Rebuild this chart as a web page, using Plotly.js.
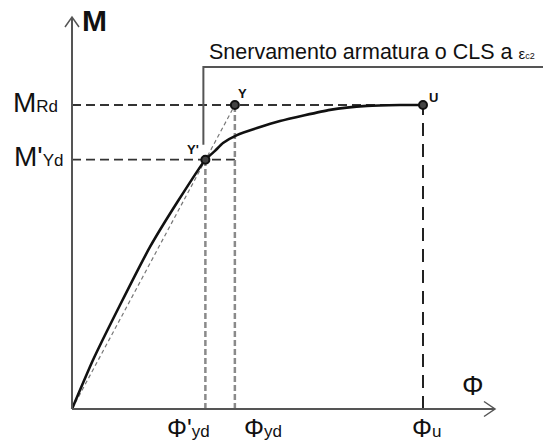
<!DOCTYPE html>
<html><head><meta charset="utf-8">
<script src="https://cdn.plot.ly/plotly-3.0.1.min.js"></script>
<style>html,body{margin:0;padding:0;background:#fff}</style>
</head><body><div id="chart" style="width:547px;height:441px"></div>
<script>
// ---- data ----
const curvePhi = [0, 0.598, 1.368, 2.222, 3.02, 3.8, 4.074, 4.302, 4.70, 5.271, 5.926, 7.35, 8.405, 9.345, 10];
const curveM   = [0, 16.1, 34.2, 53.3, 68.4, 82, 84.9, 87.5, 90.1, 92.4, 94.7, 98.4, 99.7, 100, 100];
const pointNames = ["Y'", "Y", "U"];
const pointPhi = [3.8, 4.64, 10];
const pointM   = [82, 100, 100];
const xTickVals = [3.8, 4.64, 10];
const xTickText = ["Φ'", "Φ", "Φ"];
const xTickSub  = ["yd", "yd", "u"];
const yTickVals = [100, 82];
const yTickText = ["M", "M'"];
const yTickSub  = ["Rd", "Yd"];
const xAxisTitle = "Φ";
const yAxisTitle = "M";
const noteText = "Snervamento armatura o CLS a ";
const noteSym = "ε";
const noteSub = "c2";

// ---- scale (pixels per unit) ----
const sx = 35.1, sy = 3.04, ox = 72, oy = 409, W = 547, H = 441;
const dx = p => p / sx, dy = p => p / sy;
const xr = [-ox / sx, (W - ox) / sx];
const yr = [-(H - oy) / sy, oy / sy];

const [phiYp, phiY, phiU] = pointPhi;
const [MYp, MRd, MU] = pointM;

const FONT = "Liberation Sans, Arial, sans-serif";
const traces = [];
function dline(x, y, color, width, dash) {
  traces.push({x, y, mode: 'lines', type: 'scatter', hoverinfo: 'skip',
    line: {color, width, dash}});
}
// secant
dline([0, phiY], [0, MRd], '#777', 1.2, '4px,3px');
// horizontal references
dline([0, phiU], [MRd, MRd], '#333', 1.8, '9px,5px');
dline([0, phiY], [MYp, MYp], '#333', 1.8, '9px,5px');
// verticals
dline([phiYp, phiYp], [0, MYp], '#8a8a8a', 2.5, '6px,3px');
dline([phiY, phiY], [0, MRd], '#8a8a8a', 2.5, '6px,3px');
dline([phiU, phiU], [0, MU], '#222', 2, '13px,8px');
// curve
traces.push({x: curvePhi, y: curveM, mode: 'lines', type: 'scatter', hoverinfo: 'skip',
  line: {color: '#111', width: 2.6, shape: 'spline', smoothing: 0.5}});
// points
traces.push({x: pointPhi, y: pointM, mode: 'markers', type: 'scatter', hoverinfo: 'skip',
  marker: {size: 8, color: '#444', line: {color: '#111', width: 2}}});

// axes and bracket as shapes
const axTopY = dy(oy - 17), axEndX = dx(495 - ox);
const shapes = [
  {type: 'line', x0: 0, y0: 0, x1: 0, y1: axTopY, line: {color: '#555', width: 2}},
  {type: 'line', x0: 0, y0: 0, x1: axEndX, y1: 0, line: {color: '#555', width: 2}},
  {type: 'path', path: `M ${-dx(7)} ${axTopY - dy(10)} L 0 ${axTopY} L ${dx(7)} ${axTopY - dy(10)}`,
    line: {color: '#555', width: 1.5}},
  {type: 'path', path: `M ${axEndX - dx(11)} ${dy(7.5)} L ${axEndX} 0 L ${axEndX - dx(11)} ${-dy(7.5)}`,
    line: {color: '#555', width: 1.5}},
  {type: 'path', path: `M ${phiYp - dx(2)} ${MYp + dy(15)} L ${phiYp - dx(2)} ${dy(oy - 67)} L ${dx(543 - ox)} ${dy(oy - 67)}`,
    line: {color: '#555', width: 2}}
];

const ann = [];
// axis titles
ann.push({x: 0, y: axTopY, xanchor: 'left', yanchor: 'middle', xshift: 8, yshift: -3,
  text: `<b>${yAxisTitle}</b>`, showarrow: false, font: {family: FONT, size: 30, color: '#111'}});
ann.push({x: axEndX, y: 0, xanchor: 'center', yanchor: 'bottom', xshift: -22, yshift: 6,
  text: xAxisTitle, showarrow: false, font: {family: FONT, size: 27, color: '#111'}});
// y tick labels
const yShift = [-12, -7];
yTickVals.forEach((v, i) => ann.push({x: 0, y: v, xanchor: 'right', yanchor: 'middle',
  xshift: yShift[i], yshift: 3, showarrow: false,
  text: `${yTickText[i]}<span style="font-size:17px">${yTickSub[i]}</span>`,
  font: {family: FONT, size: 28, color: '#111'}}));
// x tick labels
const xShift = [-17, 28, 3];
xTickVals.forEach((v, i) => ann.push({x: v, y: 0, xanchor: 'center', yanchor: 'top',
  xshift: xShift[i], yshift: -3, showarrow: false,
  text: `${xTickText[i]}<span style="font-size:17px">${xTickSub[i]}</span>`,
  font: {family: FONT, size: 25, color: '#111'}}));
// point labels
const pShift = [[-12, 10], [8, 12], [10, 8]];
pointNames.forEach((n, i) => ann.push({x: pointPhi[i], y: pointM[i], xanchor: 'center', yanchor: 'middle',
  xshift: pShift[i][0], yshift: pShift[i][1], showarrow: false, text: `<b>${n}</b>`,
  font: {family: FONT, size: 13, color: '#111'}}));
// note
ann.push({x: dx(207 - ox), y: dy(oy - 67), xanchor: 'left', yanchor: 'bottom', yshift: 1, showarrow: false,
  text: `${noteText}<span style="font-size:15px">${noteSym}</span><span style="font-size:9px">${noteSub}</span>`,
  font: {family: FONT, size: 21.5, color: '#111'}});

Plotly.newPlot('chart', traces, {
  width: W, height: H, margin: {l: 0, r: 0, t: 0, b: 0},
  paper_bgcolor: '#fff', plot_bgcolor: '#fff', showlegend: false,
  xaxis: {range: xr, visible: false, fixedrange: true},
  yaxis: {range: yr, visible: false, fixedrange: true},
  shapes, annotations: ann
}, {staticPlot: true});
</script></body></html>
